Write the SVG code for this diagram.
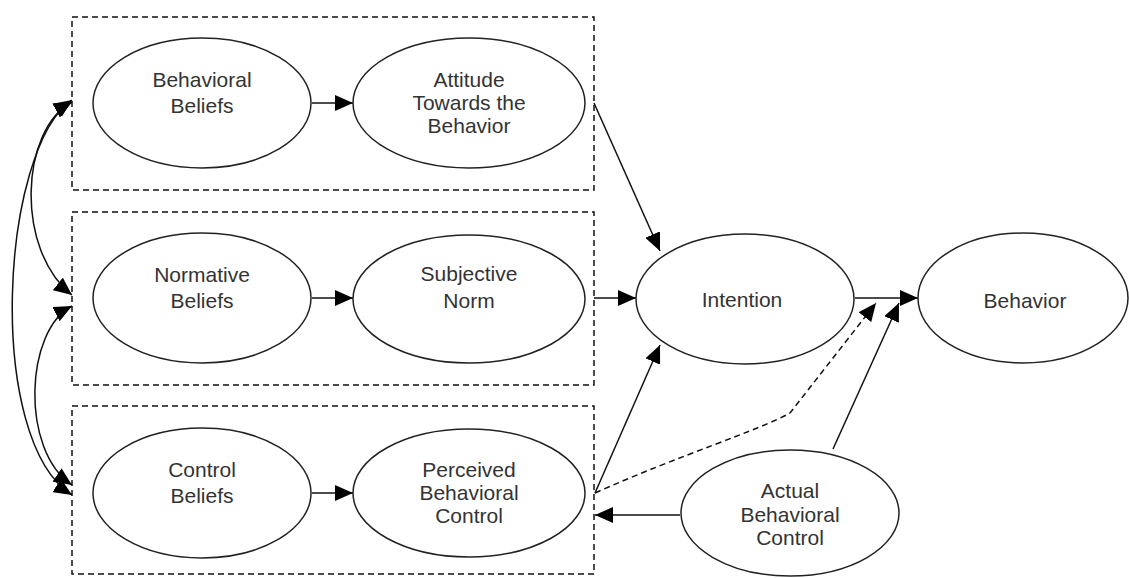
<svg xmlns="http://www.w3.org/2000/svg" width="1129" height="578" viewBox="0 0 1129 578">
<style>
.box{fill:none;stroke:#111;stroke-width:1.5;stroke-dasharray:6 4}
.node ellipse{fill:#fff;stroke:#222;stroke-width:1.5}
.node text{font-family:"Liberation Sans",Arial,sans-serif;font-size:21px;fill:#333;text-anchor:middle}
.edge{fill:none;stroke:#111;stroke-width:1.5}
.dash{stroke-dasharray:6 4}
.both{marker-start:url(#ah);marker-end:url(#ah)}
.end{marker-end:url(#ah)}
</style>
<defs>
<marker id="ah" markerUnits="userSpaceOnUse" markerWidth="18" markerHeight="16" refX="18" refY="8" orient="auto-start-reverse" viewBox="0 0 18 16">
<path d="M0,0 L18,8 L0,16 z" fill="#000"/>
</marker>
</defs>
<rect fill="#fff" x="0" y="0" width="1129" height="578"/>
<g id="groups">
<rect class="box" x="72" y="17" width="522" height="173"/>
<rect class="box" x="72" y="212" width="522" height="173"/>
<rect class="box" x="72" y="406" width="522" height="168"/>
</g>
<g id="connectors">
<path class="edge both" d="M72,100 C0,150 -15,440 72,495"/>
<path class="edge both" d="M72,102 C20,130 15,250 72,295"/>
<path class="edge both" d="M72,306 C25,330 20,450 72,485"/>
<path class="edge end" d="M312,103 L353,103"/>
<path class="edge end" d="M312,298 L353,298"/>
<path class="edge end" d="M312,493 L353,493"/>
<path class="edge end" d="M594,103 L660,251"/>
<path class="edge end" d="M594,298 L636,298"/>
<path class="edge end" d="M595,493 L660,345"/>
<path class="edge end" d="M855,298 L918,298"/>
<path class="edge end dash" d="M595,493 C680,455 760,430 790,413 L876,303"/>
<path class="edge end" d="M833,449 L899,303"/>
<path class="edge end" d="M680,515 L595,515"/>
</g>
<g id="behavioral-beliefs" class="node">
<ellipse cx="202" cy="103" rx="109" ry="65"/>
<text x="202" y="87">Behavioral</text>
<text x="202" y="113">Beliefs</text>
</g>
<g id="attitude" class="node">
<ellipse cx="469" cy="103" rx="116" ry="65"/>
<text x="469" y="87">Attitude</text>
<text x="469" y="110">Towards the</text>
<text x="469" y="133">Behavior</text>
</g>
<g id="normative-beliefs" class="node">
<ellipse cx="202" cy="298" rx="109" ry="65"/>
<text x="202" y="282">Normative</text>
<text x="202" y="308">Beliefs</text>
</g>
<g id="subjective-norm" class="node">
<ellipse cx="469" cy="299" rx="116" ry="64"/>
<text x="469" y="281">Subjective</text>
<text x="469" y="308">Norm</text>
</g>
<g id="control-beliefs" class="node">
<ellipse cx="202" cy="493" rx="109" ry="65"/>
<text x="202" y="477">Control</text>
<text x="202" y="503">Beliefs</text>
</g>
<g id="perceived-control" class="node">
<ellipse cx="469" cy="493" rx="116" ry="64"/>
<text x="469" y="477">Perceived</text>
<text x="469" y="500">Behavioral</text>
<text x="469" y="523">Control</text>
</g>
<g id="intention" class="node">
<ellipse cx="745" cy="299" rx="109" ry="65"/>
<text x="742" y="307">Intention</text>
</g>
<g id="behavior" class="node">
<ellipse cx="1023" cy="298" rx="105" ry="65"/>
<text x="1025" y="308">Behavior</text>
</g>
<g id="actual-control" class="node">
<ellipse cx="790" cy="513" rx="109" ry="63"/>
<text x="790" y="498">Actual</text>
<text x="790" y="522">Behavioral</text>
<text x="790" y="545">Control</text>
</g>
</svg>
